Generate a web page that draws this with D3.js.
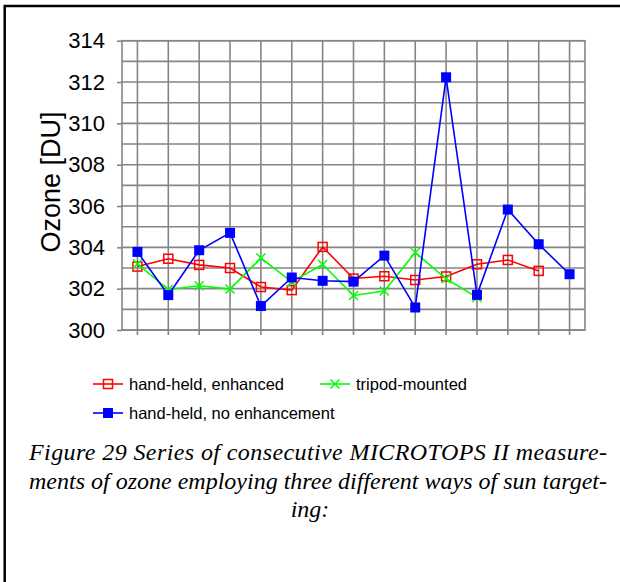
<!DOCTYPE html>
<html lang="en">
<head>
    <meta charset="UTF-8">
    <title>Ozone series</title>
    <script src="https://d3js.org/d3.v7.min.js"></script>
    <style>
        body { margin: 0; background: #fff; }
        svg { display: block; }
    </style>
</head>
<body>
    <div id="chart"></div>
    <script>
        const measurements = d3.range(1, 16);
        const handHeldEnhanced = [303.07, 303.45, 303.15, 303.0, 302.08, 301.93, 304.02, 302.49, 302.6, 302.42, 302.59, 303.18, 303.39, 302.86, null];
        const tripodMounted = [303.2, 301.96, 302.14, 301.98, 303.48, 302.33, 303.17, 301.67, 301.89, 303.75, 302.48, 301.58, null, null, null];
        const handHeldNoEnh = [303.78, 301.69, 303.86, 304.7, 301.16, 302.54, 302.38, 302.34, 303.6, 301.09, 312.23, 301.7, 305.83, 304.15, 302.7];
        const yTicks = [300, 302, 304, 306, 308, 310, 312, 314];
        const seriesNames = ["hand-held, enhanced", "tripod-mounted", "hand-held, no enhancement"];
        const captionLines = [
            "Figure 29 Series of consecutive MICROTOPS II measure-",
            "ments of ozone employing three different ways of sun target-",
            "ing:"
        ];

        const width = 620, height = 582;
        const plot = { left: 122, right: 585, top: 40.7, bottom: 330 };

        const svg = d3.select("#chart").append("svg")
            .attr("width", width)
            .attr("height", height);

        // outer frame (only left and top edges are visible in the crop)
        svg.append("rect")
            .attr("x", 4.7).attr("y", 6)
            .attr("width", 700).attr("height", 700)
            .attr("fill", "none")
            .attr("stroke", "#000")
            .attr("stroke-width", 2.5);

        const x = d3.scalePoint()
            .domain(measurements)
            .range([plot.left, plot.right])
            .padding(0.5);

        const y = d3.scaleLinear()
            .domain([300, 314])
            .range([plot.bottom, plot.top]);

        const gridColor = "#858585";

        // horizontal grid every 1 DU
        svg.append("g")
            .selectAll("line")
            .data(d3.range(300, 315))
            .join("line")
            .attr("x1", plot.left).attr("x2", plot.right)
            .attr("y1", d => y(d)).attr("y2", d => y(d))
            .attr("stroke", gridColor)
            .attr("stroke-width", 1.6);

        // vertical grid at each measurement
        svg.append("g")
            .selectAll("line")
            .data(measurements)
            .join("line")
            .attr("x1", d => x(d)).attr("x2", d => x(d))
            .attr("y1", plot.top).attr("y2", plot.bottom + 5)
            .attr("stroke", gridColor)
            .attr("stroke-width", 1.6);

        // plot frame
        svg.append("rect")
            .attr("x", plot.left).attr("y", plot.top)
            .attr("width", plot.right - plot.left)
            .attr("height", plot.bottom - plot.top)
            .attr("fill", "none")
            .attr("stroke", gridColor)
            .attr("stroke-width", 1.6);

        // y axis
        const yAxis = svg.append("g")
            .attr("transform", `translate(${plot.left},0)`)
            .call(d3.axisLeft(y).tickValues(yTicks).tickSize(5).tickPadding(12).tickFormat(d3.format("d")));
        yAxis.select(".domain").remove();
        yAxis.selectAll(".tick line").attr("stroke", gridColor).attr("stroke-width", 1.6);
        yAxis.selectAll("text")
            .attr("font-family", "Arial, 'Liberation Sans', sans-serif")
            .attr("font-size", 22)
            .attr("fill", "#000");

        svg.append("text")
            .attr("transform", "translate(60,182) rotate(-90)")
            .attr("text-anchor", "middle")
            .attr("font-family", "Arial, 'Liberation Sans', sans-serif")
            .attr("font-size", 27)
            .text("Ozone [DU]");

        const series = [
            { name: seriesNames[0], values: handHeldEnhanced, color: "#ff0000", marker: "open" },
            { name: seriesNames[1], values: tripodMounted, color: "#00ff00", marker: "cross" },
            { name: seriesNames[2], values: handHeldNoEnh, color: "#0000ff", marker: "filled" }
        ];

        const line = d3.line()
            .defined(d => d.v != null)
            .x(d => x(d.m))
            .y(d => y(d.v));

        function drawMarker(g, type, color) {
            if (type === "open") {
                g.append("rect").attr("x", -4.5).attr("y", -4.5).attr("width", 9).attr("height", 9)
                    .attr("fill", "none").attr("stroke", color).attr("stroke-width", 1.5);
            } else if (type === "filled") {
                g.append("rect").attr("x", -5).attr("y", -5).attr("width", 10).attr("height", 10)
                    .attr("fill", color);
            } else {
                g.append("path").attr("d", "M-4.5,-4.5L4.5,4.5M-4.5,4.5L4.5,-4.5")
                    .attr("stroke", color).attr("stroke-width", 1.5);
            }
        }

        series.forEach(s => {
            const pts = measurements.map((m, i) => ({ m: m, v: s.values[i] }));
            svg.append("path")
                .datum(pts)
                .attr("d", line)
                .attr("fill", "none")
                .attr("stroke", s.color)
                .attr("stroke-width", 1.6);
            svg.append("g")
                .selectAll("g")
                .data(pts.filter(d => d.v != null))
                .join("g")
                .attr("transform", d => `translate(${x(d.m)},${y(d.v)})`)
                .each(function () { drawMarker(d3.select(this), s.marker, s.color); });
        });

        // legend
        const legendPos = [[93, 384], [320, 384], [93, 413]];
        series.forEach((s, i) => {
            const g = svg.append("g").attr("transform", `translate(${legendPos[i][0]},${legendPos[i][1]})`);
            g.append("line").attr("x1", 0).attr("x2", 30).attr("stroke", s.color).attr("stroke-width", 1.6);
            const m = g.append("g").attr("transform", "translate(15,0)");
            drawMarker(m, s.marker, s.color);
            g.append("text")
                .attr("x", 36).attr("y", 6)
                .attr("font-family", "Arial, 'Liberation Sans', sans-serif")
                .attr("font-size", 16.5)
                .text(s.name);
        });

        // caption (justified lines)
        const capY = [460, 489, 517];
        captionLines.forEach((t, i) => {
            const txt = svg.append("text")
                .attr("y", capY[i])
                .attr("font-family", "'Liberation Serif', 'Times New Roman', serif")
                .attr("font-style", "italic")
                .attr("font-size", 24)
                .text(t);
            if (i < captionLines.length - 1) {
                txt.attr("x", 29).attr("textLength", 578).attr("lengthAdjust", "spacing");
            } else {
                txt.attr("x", 310).attr("text-anchor", "middle");
            }
        });
    </script>
</body>
</html>
